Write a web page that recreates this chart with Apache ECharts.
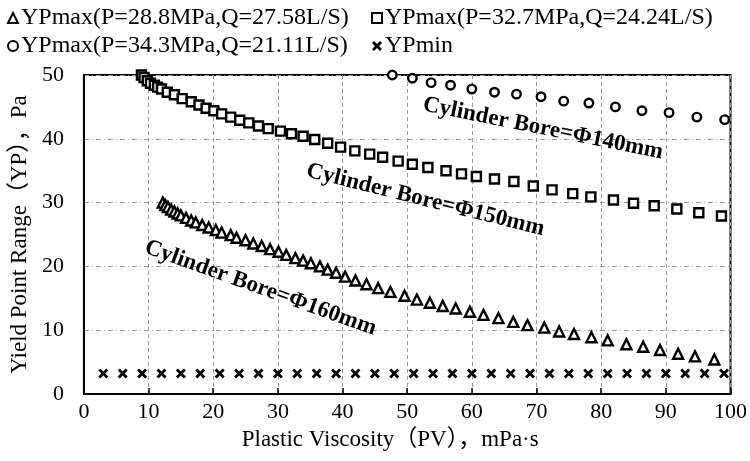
<!DOCTYPE html>
<html>
<head>
<meta charset="utf-8">
<script src="https://cdn.jsdelivr.net/npm/echarts@6/dist/echarts.min.js"></script>
<style>
  html, body { margin: 0; padding: 0; background: #fff; }
  #chart { width: 750px; height: 461px; }
</style>
</head>
<body>
<div id="chart"></div>
<script>
// PV (mPa·s), YP (Pa)
const ypMax160 = [
  [12.2,30.0],[12.6,29.6],[13.0,29.3],[13.5,28.9],[14.0,28.6],[14.5,28.3],[15.0,28.0],[15.8,27.6],
  [16.6,27.2],[17.3,26.9],[18.3,26.5],[19.3,26.1],[20.4,25.7],[21.3,25.3],[22.7,24.9],[23.6,24.5],
  [25.0,24.1],[26.2,23.6],[27.5,23.2],[28.8,22.7],[30.1,22.3],[31.3,21.8],[32.7,21.3],[33.9,20.9],
  [35.1,20.5],[36.5,20.0],[37.7,19.5],[39.0,19.0],[40.4,18.4],[42.0,17.8],[43.7,17.2],[45.5,16.6],
  [47.4,16.0],[49.6,15.4],[51.5,14.8],[53.5,14.3],[55.5,13.8],[57.5,13.4],[59.7,12.9],[61.8,12.4],
  [64.1,11.9],[66.4,11.3],[68.6,10.8],[71.2,10.4],[73.5,9.8],[75.8,9.4],[78.5,8.9],[81.0,8.4],
  [83.9,7.8],[86.5,7.4],[89.1,6.9],[91.9,6.3],[94.5,5.9],[97.5,5.4]
];
const ypMax150 = [
  [8.9,50.0],[9.3,49.6],[9.8,49.1],[10.3,48.7],[10.9,48.4],[11.4,48.1],[12.0,47.8],[12.9,47.3],
  [14.0,46.9],[15.2,46.3],[16.6,45.8],[17.8,45.3],[18.9,44.8],[20.1,44.4],[21.3,43.9],[22.7,43.4],
  [24.1,42.9],[25.5,42.5],[27.0,42.0],[28.5,41.6],[30.4,41.2],[32.1,40.8],[33.9,40.4],[35.7,39.9],
  [37.7,39.3],[39.7,38.7],[41.9,38.1],[44.2,37.6],[46.2,37.1],[48.6,36.5],[50.8,36.0],[53.2,35.5],
  [56.0,35.0],[58.4,34.5],[60.7,34.1],[63.5,33.7],[66.5,33.3],[69.5,32.6],[72.4,32.0],[75.6,31.4],
  [78.4,30.9],[81.9,30.4],[85.0,29.9],[88.2,29.5],[91.7,29.0],[95.1,28.4],[98.6,27.9]
];
const ypMax140 = [
  [47.7,50.0],[50.8,49.5],[53.7,48.8],[56.7,48.4],[60.0,47.8],[63.5,47.3],[66.9,47.0],[70.7,46.6],
  [74.2,45.9],[78.1,45.6],[82.2,45.0],[86.3,44.4],[90.5,44.1],[94.8,43.4],[99.1,43.0]
];
const ypMinPV = [3,6,9,12,15,18,21,24,27,30,33,36,39,42,45,48,51,54,57,60,63,66,69,72,75,78,81,84,87,90,93,96,99];
const ypMinYP = [3.2,3.2,3.2,3.2,3.2,3.2,3.2,3.2,3.2,3.2,3.2,3.2,3.2,3.2,3.2,3.2,3.2,3.2,3.2,3.2,3.2,3.2,3.2,3.2,3.2,3.2,3.2,3.2,3.2,3.2,3.2,3.2,3.2];

const seriesNames = [
  'YPmax(P=28.8MPa,Q=27.58L/S)',
  'YPmax(P=32.7MPa,Q=24.24L/S)',
  'YPmax(P=34.3MPa,Q=21.11L/S)',
  'YPmin'
];
// annotations: [PV, YP, angle(deg), text]
const notes = [
  [71.0, 41.6, 11.4, 'Cylinder Bore=Φ140mm'],
  [52.8, 30.4, 14, 'Cylinder Bore=Φ150mm'],
  [27.3, 16.6, 19.8, 'Cylinder Bore=Φ160mm']
];

const FONT = "'Liberation Serif', 'Times New Roman', 'Noto Sans CJK SC', serif";
const crossPath = 'path://M2,0L5,3L8,0L10,2L7,5L10,8L8,10L5,7L2,10L0,8L3,5L0,2Z';
const hollow = { color: '#fff', borderColor: '#000', borderWidth: 2.4, opacity: 1 };

const chart = echarts.init(document.getElementById('chart'));
const option = {
  backgroundColor: '#fff',
  animation: false,
  textStyle: { fontFamily: FONT, color: '#000' },
  legend: [
    {
      orient: 'vertical', left: 2, top: 1, itemGap: 4,
      itemWidth: 10, itemHeight: 10,
      textStyle: { fontFamily: FONT, fontSize: 24, color: '#000', padding: [0, 0, 0, -2] },
      data: [seriesNames[0], seriesNames[2]]
    },
    {
      orient: 'vertical', left: 366, top: 1, itemGap: 4,
      itemWidth: 10, itemHeight: 10,
      textStyle: { fontFamily: FONT, fontSize: 24, color: '#000', padding: [0, 0, 0, -2] },
      data: [seriesNames[1], seriesNames[3]]
    }
  ],
  grid: {
    left: 79, right: 18, top: 75, bottom: 67,
    show: true, borderColor: '#000', borderWidth: 2
  },
  xAxis: {
    type: 'value', min: 0, max: 100, interval: 10,
    name: 'Plastic Viscosity（PV），mPa·s',
    nameLocation: 'middle', nameGap: 34,
    nameTextStyle: { fontFamily: FONT, fontSize: 23, color: '#000', padding: [0, 34, 0, 0] },
    axisLine: { lineStyle: { color: '#000', width: 2 } },
    axisTick: { inside: true, length: 6, lineStyle: { color: '#000', width: 1.5 } },
    axisLabel: { fontFamily: FONT, fontSize: 22, color: '#000', margin: 7 },
    splitLine: { lineStyle: { color: '#999', width: 1, type: [4, 3] } }
  },
  yAxis: {
    type: 'value', min: 0, max: 50, interval: 10,
    name: 'Yield Point Range（YP），Pa',
    nameLocation: 'middle', nameGap: 45,
    nameTextStyle: { fontFamily: FONT, fontSize: 23, color: '#000' },
    axisLine: { show: true, lineStyle: { color: '#000', width: 2 } },
    axisTick: { show: false },
    axisLabel: { fontFamily: FONT, fontSize: 22, color: '#000', margin: 20 },
    splitLine: { lineStyle: { color: '#999', width: 1, type: [5, 3, 1, 3] } }
  },
  series: [
    { name: seriesNames[0], type: 'scatter', symbol: 'triangle', symbolSize: 10, itemStyle: hollow, data: ypMax160 },
    { name: seriesNames[1], type: 'scatter', symbol: 'rect', symbolSize: 9, itemStyle: hollow, data: ypMax150 },
    { name: seriesNames[2], type: 'scatter', symbol: 'circle', symbolSize: 8.5, itemStyle: hollow, data: ypMax140 },
    { name: seriesNames[3], type: 'scatter', symbol: crossPath, symbolSize: 10,
      itemStyle: { color: '#000', opacity: 1 }, data: ypMinPV.map((v, i) => [v, ypMinYP[i]]) }
  ]
};
chart.setOption(option);

chart.setOption({
  graphic: notes.map(n => {
    const p = chart.convertToPixel({ gridIndex: 0 }, [n[0], n[1]]);
    return {
      type: 'text', x: p[0], y: p[1], rotation: -n[2] * Math.PI / 180,
      style: {
        text: n[3], fontFamily: FONT, fontSize: 23, fontWeight: 'bold',
        fill: '#000', align: 'center', verticalAlign: 'middle'
      }
    };
  })
});
</script>
</body>
</html>
